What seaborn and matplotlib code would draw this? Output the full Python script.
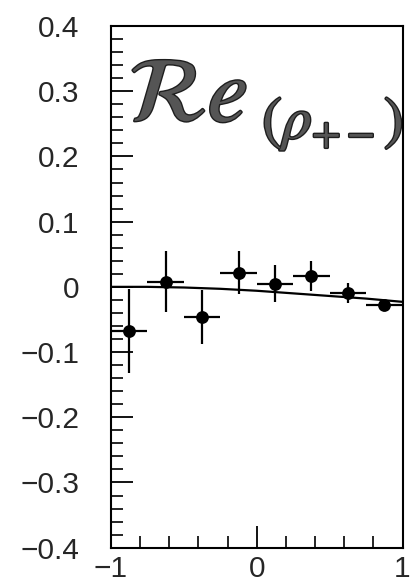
import numpy as np
import pandas as pd
import matplotlib
matplotlib.use("Agg")
import matplotlib.pyplot as plt
import matplotlib.patheffects as pe
from matplotlib.ticker import MultipleLocator, FixedLocator
import seaborn as sns

# measured points (bin centres in cos theta)
bin_centers = [-0.875, -0.625, -0.375, -0.125, 0.125, 0.375, 0.625, 0.875]
bin_halfwidth = [0.125] * 8
re_rho = [-0.068, 0.008, -0.046, 0.022, 0.005, 0.017, -0.009, -0.028]
re_rho_err = [0.064, 0.047, 0.041, 0.033, 0.028, 0.023, 0.015, 0.006]

# fitted curve
fit_x = [-1.0, -0.75, -0.5, -0.25, 0.0, 0.25, 0.5, 0.75, 1.0]
fit_y = [0.0, 0.0, -0.001, -0.003, -0.006, -0.010, -0.014, -0.018, -0.023]

y_ticks = [-0.4, -0.3, -0.2, -0.1, 0.0, 0.1, 0.2, 0.3, 0.4]
y_tick_labels = ["\u22120.4", "\u22120.3", "\u22120.2", "\u22120.1", "0", "0.1", "0.2", "0.3", "0.4"]
x_ticks = [-1, 0, 1]
x_tick_labels = ["\u22121", "0", "1"]

sns.set_theme(style="white")
plt.rcParams["font.family"] = ["Liberation Sans", "DejaVu Sans"]
plt.rcParams["mathtext.fontset"] = "stix"

fig = plt.figure(figsize=(4.11, 5.84), dpi=100)
ax = fig.add_axes([111 / 411, (584 - 547.7) / 584, (402.5 - 111) / 411, (547.7 - 26) / 584])

pts = pd.DataFrame({"x": bin_centers, "y": re_rho})
fit = pd.DataFrame({"x": fit_x, "y": fit_y})

sns.lineplot(data=fit, x="x", y="y", ax=ax, color="black", lw=1.6, zorder=2)
ax.errorbar(bin_centers, re_rho, xerr=bin_halfwidth, yerr=re_rho_err,
            fmt="none", ecolor="black", elinewidth=1.6, capsize=0, zorder=3)
sns.scatterplot(data=pts, x="x", y="y", ax=ax, color="black", s=85,
                edgecolor="black", linewidth=0, zorder=4, legend=False)

ax.set_xlim(-1, 1)
ax.set_ylim(-0.4, 0.4)
ax.set_xlabel("")
ax.set_ylabel("")

ax.yaxis.set_major_locator(FixedLocator(y_ticks))
ax.set_yticklabels(y_tick_labels)
ax.yaxis.set_minor_locator(MultipleLocator(0.02))
ax.xaxis.set_major_locator(FixedLocator(x_ticks))
ax.set_xticklabels(x_tick_labels)
ax.xaxis.set_minor_locator(MultipleLocator(0.2))

ax.tick_params(axis="both", which="both", direction="in", color="black",
               top=False, right=False, bottom=True, left=True)
ax.tick_params(axis="y", which="major", length=15.5, width=1.3, pad=23, labelsize=21.5)
ax.tick_params(axis="y", which="minor", length=8.4, width=1.2)
ax.tick_params(axis="x", which="major", length=15.5, width=1.3, pad=5, labelsize=21.5)
ax.tick_params(axis="x", which="minor", length=8.4, width=1.2)

for s in ax.spines.values():
    s.set_color("black")
    s.set_linewidth(1.5)

# hand-written style annotation
ink = dict(color="#555555", zorder=1,
           path_effects=[pe.withStroke(linewidth=2.0, foreground="#1e1e1e")])
ax.text(-0.47, 0.29, r"$\mathcal{R}e$", fontsize=66, ha="center", va="center", **ink)
ax.text(0.52, 0.25, r"$(\rho_{+-})$", fontsize=43, ha="center", va="center", **ink)

fig.savefig("out.png", dpi=100)
